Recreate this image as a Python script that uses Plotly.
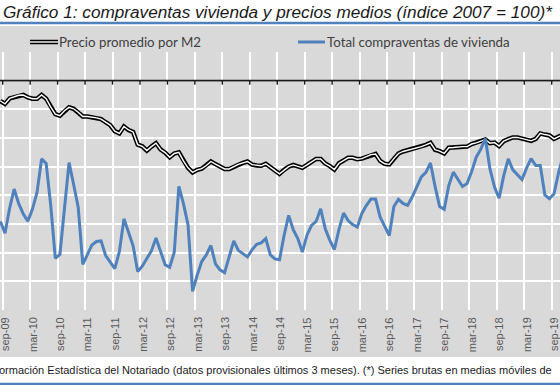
import plotly.graph_objects as go

# ---------------- data ----------------
ESP = ["ene", "feb", "mar", "abr", "may", "jun", "jul", "ago", "sep", "oct", "nov", "dic"]
months = []
_y, _m = 2009, 8
for _ in range(124):
    months.append(f"{ESP[_m - 1]}-{_y % 100:02d}")
    _m += 1
    if _m > 12:
        _m, _y = 1, _y + 1

precio = [92.9, 91.9, 93.8, 94.3, 94.9, 95.0, 94.2, 93.7, 93.7, 95.0,
          93.7, 90.8, 88.3, 87.8, 89.5, 90.7, 90.2, 89.0, 87.5, 87.5,
          87.3, 87.0, 86.6, 85.5, 84.5, 82.4, 81.6, 84.0, 82.8, 82.1,
          77.7, 77.1, 75.6, 77.0, 78.2, 76.0, 74.9, 73.3, 74.6, 75.0,
          72.0, 69.6, 68.0, 68.9, 69.3, 70.4, 71.8, 70.9, 69.9, 69.2,
          69.2, 70.0, 70.8, 71.3, 71.8, 70.7, 70.4, 70.3, 71.0, 69.7,
          68.6, 67.5, 68.9, 70.0, 70.6, 70.0, 69.6, 70.6, 71.7, 72.7,
          72.7, 71.1, 70.2, 69.0, 71.2, 72.1, 73.1, 73.1, 72.6, 72.8,
          73.4, 74.2, 74.4, 72.0, 71.0, 70.8, 72.8, 74.6, 75.3, 75.7,
          76.1, 76.6, 77.0, 77.6, 78.3, 75.9, 75.4, 74.6, 76.6, 76.7,
          76.9, 77.0, 77.0, 77.9, 78.3, 79.0, 79.5, 78.2, 78.4, 77.2,
          78.9, 79.6, 80.2, 80.2, 79.8, 79.2, 79.0, 79.7, 81.6, 81.2,
          80.9, 79.7, 80.5, 81.2]

compraventas = [50.9, 46.8, 55.4, 62.2, 57.1, 53.5, 51.0, 55.2, 61.0, 72.7,
                71.1, 56.4, 38.0, 39.4, 55.4, 71.4, 63.8, 55.9, 35.9, 39.2,
                42.7, 43.9, 44.1, 39.0, 36.7, 34.4, 40.4, 51.8, 47.1, 42.4,
                33.4, 35.3, 38.0, 40.6, 45.1, 40.4, 35.8, 34.9, 40.2, 63.1,
                57.1, 49.8, 26.5, 32.1, 36.9, 39.2, 42.5, 36.1, 34.0, 33.0,
                38.7, 44.1, 40.8, 39.7, 38.5, 41.0, 42.9, 43.4, 44.9, 39.2,
                37.8, 37.5, 46.0, 53.0, 48.0, 44.9, 40.2, 46.1, 49.5, 50.9,
                55.3, 48.3, 44.3, 41.1, 48.1, 53.8, 51.2, 49.8, 48.9, 53.7,
                56.5, 58.7, 58.7, 52.4, 48.9, 46.0, 56.1, 58.6, 57.2, 56.5,
                59.4, 62.9, 66.4, 68.0, 71.3, 63.1, 56.1, 55.1, 63.4, 68.1,
                65.5, 63.1, 64.1, 68.3, 73.3, 76.1, 79.8, 69.2, 62.9, 59.0,
                66.8, 72.7, 68.9, 67.2, 65.5, 69.5, 72.8, 70.4, 70.4, 60.1,
                58.8, 60.5, 67.9, 73.9]

tick_labels = ["sep-09", "mar-10", "sep-10", "mar-11", "sep-11", "mar-12", "sep-12",
               "mar-13", "sep-13", "mar-14", "sep-14", "mar-15", "sep-15", "mar-16",
               "sep-16", "mar-17", "sep-17", "mar-18", "sep-18", "mar-19", "sep-19"]

series_names = ["Precio promedio por M2", "Total compraventas de vivienda"]
title_text = "Gráfico 1: compraventas vivienda y precios medios (índice 2007 = 100)*"
footer_text = ("ormación Estadística del Notariado (datos provisionales últimos 3 meses). "
               "(*) Series brutas en medias móviles de")

# ---------------- layout helpers ----------------
W, H = 560, 385
TOP, BOT = 52, 310           # plot area in pixels
Y_MIN, Y_MAX = 20, 110
AXIS_CROSS = 100             # category axis crosses the value axis at 100
X_RANGE = [-0.093, 122.31]
BLUE = "#4f81bd"
GRAY = "#d9d9d9"


def py(px):
    """pixel row -> paper y"""
    return (BOT - px) / (BOT - TOP)


def pxx(px):
    return px / W


# category positions on the (uniform) category axis
pos = {m: i for i, m in enumerate(months)}
x_pos = [pos[m] for m in months]
tick_idx = [pos[t] for t in tick_labels]
boundaries = [i - 0.5 for i in tick_idx]

fig = go.Figure()
fig.add_trace(go.Scatter(x=x_pos, y=precio, mode="lines", name=series_names[0],
                         line=dict(color="black", width=4.5),
                         showlegend=False, hoverinfo="skip"))
fig.add_trace(go.Scatter(x=x_pos, y=precio, mode="lines",
                         line=dict(color="white", width=1.4),
                         showlegend=False, hoverinfo="skip"))
fig.add_trace(go.Scatter(x=x_pos, y=compraventas, mode="lines", name=series_names[1],
                         line=dict(color=BLUE, width=3),
                         showlegend=False, hoverinfo="skip"))

axis_y_paper = (AXIS_CROSS - Y_MIN) / (Y_MAX - Y_MIN)
tick_len = 4 / (BOT - TOP)

shapes = [
    # white bands above and below the grey chart area
    dict(type="rect", xref="paper", yref="paper", x0=-0.01, x1=1.01, y0=py(26), y1=py(-5),
         fillcolor="white", line=dict(width=0), layer="below"),
    dict(type="rect", xref="paper", yref="paper", x0=-0.01, x1=1.01, y0=py(390), y1=py(357),
         fillcolor="white", line=dict(width=0), layer="below"),
    dict(type="line", xref="paper", yref="paper", x0=0, x1=1, y0=py(23), y1=py(23),
         line=dict(color=BLUE, width=2.5)),
    dict(type="line", xref="paper", yref="paper", x0=0, x1=1, y0=py(384), y1=py(384),
         line=dict(color=BLUE, width=2.5)),
    # category axis line, crossing at 100
    dict(type="line", xref="paper", yref="paper", x0=0, x1=1,
         y0=axis_y_paper, y1=axis_y_paper, line=dict(color="#1a1a1a", width=1.6)),
    # legend symbols
    dict(type="line", xref="paper", yref="paper", x0=pxx(30), x1=pxx(58), y0=py(42), y1=py(42),
         line=dict(color="black", width=4.5)),
    dict(type="line", xref="paper", yref="paper", x0=pxx(30), x1=pxx(58), y0=py(42), y1=py(42),
         line=dict(color="white", width=1.4)),
    dict(type="line", xref="paper", yref="paper", x0=pxx(298), x1=pxx(325), y0=py(42), y1=py(42),
         line=dict(color=BLUE, width=3)),
]
# tick marks on the category axis, at category boundaries
for b in boundaries:
    shapes.append(dict(type="line", xref="x", yref="paper", x0=b, x1=b,
                       y0=axis_y_paper, y1=axis_y_paper - tick_len,
                       line=dict(color="#1a1a1a", width=1.4)))

annotations = [
    dict(text="<i>" + title_text + "</i>", xref="paper", yref="paper",
         x=pxx(1), y=py(12), xanchor="left", yanchor="middle", showarrow=False,
         font=dict(family="Liberation Sans", size=17.2, color="#1a1a1a")),
    dict(text=series_names[0], xref="paper", yref="paper",
         x=pxx(57), y=py(42), xanchor="left", yanchor="middle", showarrow=False,
         font=dict(family="Lato", size=13.3, color="#404040")),
    dict(text=series_names[1], xref="paper", yref="paper",
         x=pxx(325), y=py(42), xanchor="left", yanchor="middle", showarrow=False,
         font=dict(family="Lato", size=13.3, color="#404040")),
    dict(text=footer_text, xref="paper", yref="paper",
         x=pxx(-3), y=py(370), xanchor="left", yanchor="middle", showarrow=False,
         font=dict(family="Liberation Sans", size=11, color="#1a1a1a")),
]
# category tick labels (rotated), centred on their categories
for lab, i in zip(tick_labels, tick_idx):
    annotations.append(dict(text=lab, xref="x", yref="paper", x=i, y=py(316),
                            xanchor="center", yanchor="top", textangle=-90,
                            showarrow=False, borderpad=0,
                            font=dict(family="Liberation Sans", size=11, color="#595959")))

fig.update_layout(
    width=W, height=H,
    margin=dict(l=0, r=0, t=TOP, b=H - BOT, pad=0),
    paper_bgcolor=GRAY, plot_bgcolor=GRAY,
    showlegend=False,
    shapes=shapes, annotations=annotations,
    xaxis=dict(range=X_RANGE, tickmode="array", tickvals=boundaries,
               ticks="", showticklabels=False,
               showgrid=True, gridcolor="#ffffff", gridwidth=2,
               showline=False, zeroline=False, fixedrange=True),
    yaxis=dict(range=[Y_MIN, Y_MAX], tick0=0, dtick=10, showticklabels=False,
               showgrid=True, gridcolor="#ffffff", gridwidth=2,
               zeroline=False, showline=False, ticks="", fixedrange=True),
)

fig.write_html("out.html", config={"displayModeBar": False},
               post_script="document.body.style.margin='0';document.body.style.overflow='hidden';")
